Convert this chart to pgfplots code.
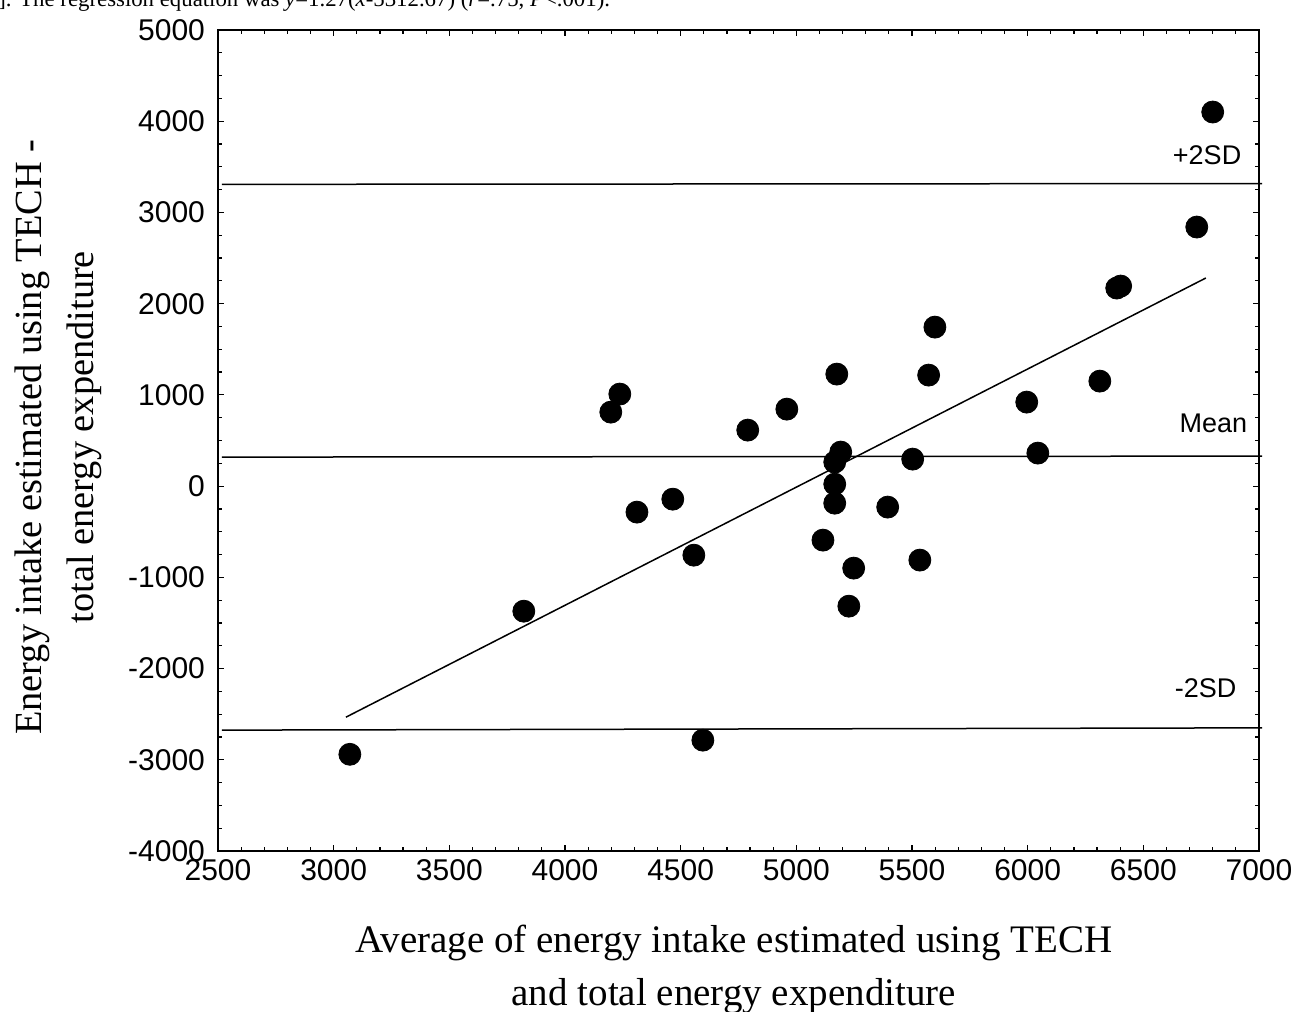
\documentclass[border=0pt]{standalone}
\usepackage{fontspec}
\setmainfont{Liberation Serif}
\newfontfamily\arial{Liberation Sans}
\usepackage{pgfplots}
\pgfplotsset{compat=1.18}
\begin{document}
\begin{tikzpicture}
% page = 1296x1012 px at 0.5pt per px, axis box lower left at origin
\useasboundingbox (-109pt,-80.5pt) rectangle (539pt,425.5pt);
% caption line cut by the top of the page
\node[anchor=base west, inner sep=0pt, font=\fontsize{11.4}{13}\selectfont] at (-110pt,422.2pt)
  {]. The regression equation was \textit{y}=1.27(\textit{x}-5312.67) (\textit{r}=.75, \textit{P}<.001).};
\begin{axis}[
  at={(0,0)}, anchor=south west,
  width=520.5pt, height=410.5pt, scale only axis,
  xmin=2500, xmax=7000, ymin=-4000, ymax=5000,
  xtick={2500,3000,...,7000}, ytick={-4000,-3000,...,5000},
  minor x tick num=4, minor y tick num=3,
  tick align=inside,
  major tick length=3pt, minor tick length=1.8pt,
  every tick/.style={black, line width=0.6pt},
  axis line style={line width=1pt},
  /pgf/number format/assume math mode=true,
  /pgf/number format/1000 sep={},
  ticklabel style={font=\arial\fontsize{15}{15}\selectfont},
  yticklabel style={xshift=-3pt},
  xticklabel style={yshift=-0.5pt},
  xlabel={Average of energy intake estimated using TECH\\and total energy expenditure},
  ylabel={Energy intake estimated using TECH -\\total energy expenditure},
  xlabel style={font=\fontsize{19.5}{26.5}\selectfont, align=center,
    at={(axis description cs:0.4955,-0.1445)}, anchor=center},
  ylabel style={font=\fontsize{19.2}{26}\selectfont, align=center,
    at={(axis description cs:-0.1537,0.504)}, anchor=center},
  clip=false,
]
% limits of agreement and mean
\addplot[black, line width=0.75pt] coordinates {(2517,3308) (7013,3317)};
\addplot[black, line width=0.75pt] coordinates {(2517,318) (7013,329)};
\addplot[black, line width=0.75pt] coordinates {(2517,-2675) (7013,-2650)};
% regression line
\addplot[black, line width=0.75pt] coordinates {(3053,-2533) (6770,2281)};
% differences vs averages
\addplot[only marks, mark=*, mark size=5.5pt, black] coordinates {
  (3070,-2940) (3822,-1371) (4198,811) (4237,1009) (4311,-285)
  (4466,-143) (4557,-757) (4596,-2785) (4790,614) (4959,844)
  (5115,-592) (5175,1228) (5192,373) (5166,263) (5166,22)
  (5166,-187) (5248,-899) (5227,-1316) (5395,-230) (5503,296)
  (5534,-811) (5572,1217) (5599,1743) (5996,921) (6044,362)
  (6312,1151) (6385,2171) (6402,2193) (6731,2840) (6800,4101)
};
\node[anchor=east, inner sep=0pt, font=\arial\fontsize{13.5}{13.5}\selectfont] at (axis cs:6925,3629) {+2SD};
\node[anchor=east, inner sep=0pt, font=\arial\fontsize{13.5}{13.5}\selectfont] at (axis cs:6951,690) {Mean};
\node[anchor=east, inner sep=0pt, font=\arial\fontsize{13.5}{13.5}\selectfont] at (axis cs:6904,-2215) {-2SD};
\end{axis}
\end{tikzpicture}
\end{document}
